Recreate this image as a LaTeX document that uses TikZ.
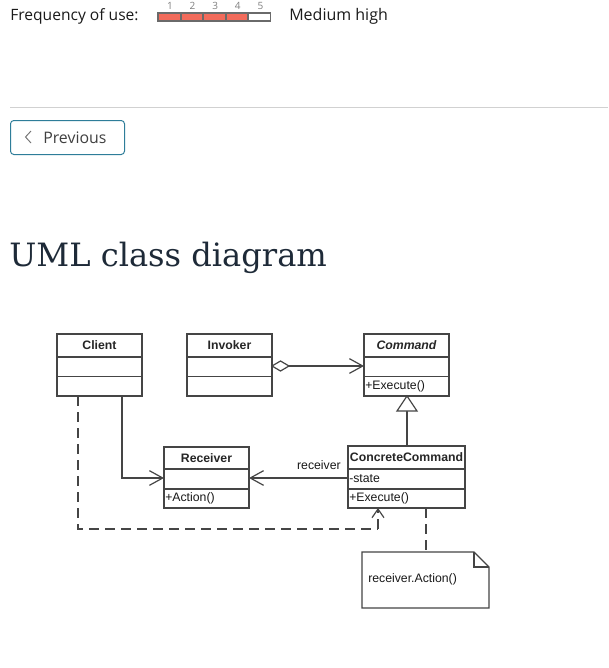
\documentclass[tikz,border=0pt]{standalone}
\usepackage{fontspec}
\setmainfont{Liberation Serif}
\newfontfamily\uifont{Open Sans}
\newfontfamily\umlfont{Liberation Sans}
\newfontfamily\titlefont{DejaVu Serif}
\usetikzlibrary{arrows.meta,shapes.geometric}
\definecolor{umlline}{HTML}{454545}
\definecolor{ratered}{HTML}{F26B5B}
\definecolor{btnteal}{HTML}{2E7D99}
\definecolor{titlecol}{HTML}{1E2A38}
\definecolor{uitext}{HTML}{1A1A1A}
\tikzset{
  umlbox/.style={draw=umlline, line width=0.9pt},
  umltext/.style={font=\umlfont\fontsize{9.2}{10}\selectfont, inner sep=0pt, text=black!90},
  umlhead/.style={font=\umlfont\bfseries\fontsize{9.2}{10}\selectfont, inner sep=0pt, text=black!85},
  conn/.style={draw=umlline, line width=0.9pt},
  openarrow/.style={-{Straight Barb[length=10pt,width=11pt,line width=0.9pt]}},
  smallarrow/.style={-{Straight Barb[length=6.5pt,width=9pt,line width=0.9pt]}},
  dashconn/.style={draw=umlline, line width=0.9pt, dash pattern=on 7.5pt off 4.5pt},
  ui/.style={font=\uifont\fontsize{12}{14}\selectfont, text=uitext, inner sep=0pt}
}
\begin{document}
\begin{tikzpicture}[x=0.75pt,y=-0.75pt]
\useasboundingbox (0,0) rectangle (608,668);
\fill[white] (0,0) rectangle (608,668);
% header
\node[ui, anchor=west, font=\uifont\fontsize{11.7}{14}\selectfont] (freq) at (10,16) {Frequency of use:};
\fill[umlline!80] (157,12) rectangle (271,21.5);
\foreach \i/\c in {0/ratered,1/ratered,2/ratered,3/ratered,4/white}{
  \fill[\c] (159+\i*22.6,13.8) rectangle (179.5+\i*22.6,19.7);
  \node[font=\uifont\fontsize{7.5}{8}\selectfont, text=gray, inner sep=0pt] at (170+\i*22.6,5.5) {\the\numexpr\i+1\relax};
}
\node[ui, anchor=west] (level) at (289,16) {Medium high};
\draw[black!18, line width=0.75pt] (10,107) -- (608,107);
\node[draw=btnteal, line width=0.75pt, rounded corners=2.5pt, minimum width=114*0.75pt, minimum height=34*0.75pt, anchor=north west, inner sep=0pt] (prev) at (10,120) {};
\draw[black!55, line width=0.7pt] (31,131) -- (25.5,137) -- (31,143);
\node[ui, anchor=west, text=black!75, font=\uifont\fontsize{11.9}{14}\selectfont] (prevtxt) at (43,137.5) {Previous};
\node[font=\titlefont\fontsize{24.1}{28}\selectfont, text=titlecol, inner sep=0pt, anchor=base west] (title) at (9,266) {UML class diagram};
% UML boxes
% Client
\draw[umlbox] (57,334) rectangle (142,396);
\draw[umlbox] (57,357) -- (142,357) (57,376.5) -- (142,376.5);
\node[umlhead] (client) at (99.5,345.5) {Client};
% Invoker
\draw[umlbox] (187,334) rectangle (272,396);
\draw[umlbox] (187,357) -- (272,357) (187,376.5) -- (272,376.5);
\node[umlhead] (invoker) at (229.5,345.5) {Invoker};
% Command
\draw[umlbox] (364,334) rectangle (449,396);
\draw[umlbox] (364,357) -- (449,357) (364,376.5) -- (449,376.5);
\node[umlhead, font=\umlfont\bfseries\itshape\fontsize{9.2}{10}\selectfont] (command) at (406.5,345.5) {Command};
\node[umltext, anchor=west] (cmdexec) at (365,386.5) {+Execute()};
% Receiver
\draw[umlbox] (164,447) rectangle (249,508);
\draw[umlbox] (164,469) -- (249,469) (164,489) -- (249,489);
\node[umlhead] (receiver) at (206.5,458) {Receiver};
\node[umltext, anchor=west] (action) at (165,498.5) {+Action()};
% ConcreteCommand
\draw[umlbox] (348,446) rectangle (465,508);
\draw[umlbox] (348,469) -- (465,469) (348,489) -- (465,489);
\node[umlhead] (cc) at (406.5,457.5) {ConcreteCommand};
\node[umltext, anchor=west] (state) at (349,478.5) {-state};
\node[umltext, anchor=west] (ccexec) at (349,498.5) {+Execute()};
% coordinates
\coordinate (invR) at (272,366);
\coordinate (cmdL) at (364,366);
\coordinate (cmdB) at (407,396);
\coordinate (ccT) at (407,446);
\coordinate (clientB1) at (122,396);
\coordinate (recL) at (164,478);
\coordinate (recR) at (249,478);
\coordinate (ccL) at (348,478);
\coordinate (clientB2) at (78,396);
\coordinate (ccB1) at (378,508);
\coordinate (ccB2) at (426,508);
\coordinate (noteT) at (426,552);
% aggregation
\draw[conn, openarrow] (invR) ++(17,0) -- (cmdL);
\draw[umlbox, fill=white] (invR) -- ++(8.5,-5) -- ++(8.5,5) -- ++(-8.5,5) -- cycle;
% inheritance
\draw[conn] (ccT) -- (407,411);
\draw[umlbox, fill=white] (cmdB) -- (417,411) -- (397,411) -- cycle;
% client -> receiver
\draw[conn, openarrow] (clientB1) |- (recL);
% cc -> receiver
\draw[conn, openarrow] (ccL) -- (recR);
\node[umltext, anchor=south east] (rlabel) at (341,470) {receiver};
% dashed dependency
\draw[dashconn] (clientB2) |- (378,529);
\draw[dashconn, smallarrow] (378,529) -- (ccB1);
% note
\draw[dashconn] (ccB2) -- (noteT);
\draw[umlbox, fill=white] (362,552) -- (474,552) -- (489,567) -- (489,608) -- (362,608) -- cycle;
\draw[umlbox] (474,552) -- (474,567) -- (489,567);
\node[umltext, anchor=west] (notetxt) at (368,579) {receiver.Action()};
\end{tikzpicture}
\end{document}
